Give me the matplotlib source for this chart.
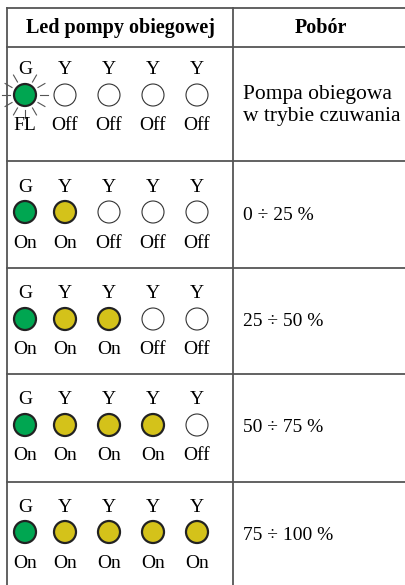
import numpy as np
import matplotlib.pyplot as plt
from matplotlib.patches import Circle

plt.rcParams['font.family'] = ['Liberation Serif', 'DejaVu Serif']

# table content
header = ['Led pompy obiegowej', 'Pobór']
led_names = ['G', 'Y', 'Y', 'Y', 'Y']
led_states = [
    ['FL', 'Off', 'Off', 'Off', 'Off'],
    ['On', 'On', 'Off', 'Off', 'Off'],
    ['On', 'On', 'On', 'Off', 'Off'],
    ['On', 'On', 'On', 'On', 'Off'],
    ['On', 'On', 'On', 'On', 'On'],
]
pobor = ['Pompa obiegowa\nw trybie czuwania', '0 ÷ 25 %', '25 ÷ 50 %',
         '50 ÷ 75 %', '75 ÷ 100 %']

# layout in pixels
W, H = 405, 585
x_left, x_mid = 7, 233
y_lines = [8, 47, 161, 268, 374, 482]
row_bottom = 600
led_x = [25, 65, 109, 153, 197]
circle_dy = [48, 51, 51, 51, 50]
r = 11
green = '#00a651'
yellow = '#d4c21a'
line_col = '#555555'

fig = plt.figure(figsize=(W / 100, H / 100), dpi=100)
ax = fig.add_axes([0, 0, 1, 1])
ax.set_xlim(0, W)
ax.set_ylim(H, 0)
ax.axis('off')

# grid lines
for y in y_lines:
    ax.plot([x_left, W], [y, y], color=line_col, lw=1.3)
ax.plot([x_left, x_left], [y_lines[0], row_bottom], color=line_col, lw=1.3)
ax.plot([x_mid, x_mid], [y_lines[0], row_bottom], color=line_col, lw=1.3)

# header
ax.text((x_left + x_mid) / 2, 28, header[0], ha='center', va='center',
        fontsize=14.5, fontweight='bold')
ax.text((x_mid + W) / 2 + 2, 28, header[1], ha='center', va='center',
        fontsize=14.5, fontweight='bold')

tops = y_lines[1:]
for i, states in enumerate(led_states):
    cy = tops[i] + circle_dy[i]
    for j, st in enumerate(states):
        cx = led_x[j]
        ax.text(cx, cy - 25, led_names[j], ha='center', va='center', fontsize=14)
        ax.text(cx, cy + 31, st, ha='center', va='center', fontsize=14)
        if st == 'Off':
            ax.add_patch(Circle((cx, cy), r, facecolor='white',
                                edgecolor='#333333', lw=0.8))
        else:
            fc = green if led_names[j] == 'G' else yellow
            ax.add_patch(Circle((cx, cy), r, facecolor=fc,
                                edgecolor='#222222', lw=1.6))
        if st == 'FL':
            # flashing rays around the led
            for a in np.deg2rad(np.arange(0, 360, 30)):
                if abs(np.rad2deg(a) - 90) < 1:
                    continue
                r0, r1 = 15, 23
                ax.plot([cx + r0 * np.cos(a), cx + r1 * np.cos(a)],
                        [cy - r0 * np.sin(a), cy - r1 * np.sin(a)],
                        color='#555555', lw=0.8)
    if i == 0:
        ax.text(243, cy, 'Pompa obiegowa', ha='left', va='center', fontsize=15.5)
        ax.text(243, cy + 22, 'w trybie czuwania', ha='left', va='center',
                fontsize=15.5)
    else:
        ax.text(243, cy + 3, pobor[i], ha='left', va='center', fontsize=14)

fig.savefig('out.png', dpi=100)
